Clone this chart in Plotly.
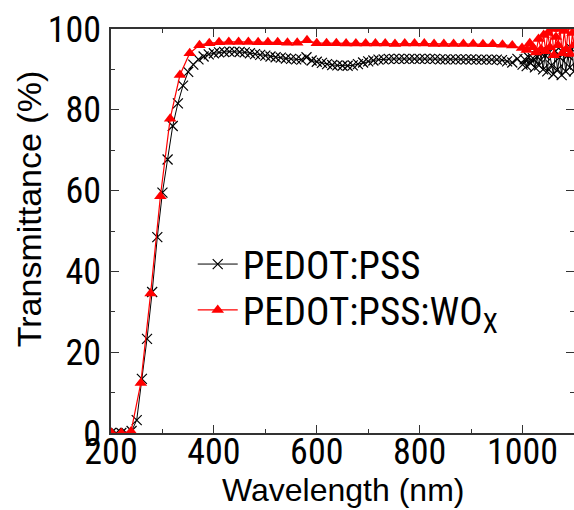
import plotly.graph_objects as go

# ---- data ----
wl_pss = [200, 210, 220, 230, 240, 250, 260, 270, 280, 290, 300, 310, 320, 330, 340, 350,
          360, 370, 380, 390, 400, 410, 420, 430, 440, 450, 460, 470, 480, 490, 500, 510,
          520, 530, 540, 550, 560, 570, 580, 590, 600, 610, 620, 630, 640, 650, 660, 670,
          680, 690, 700, 710, 720, 730, 740, 750, 760, 770, 780, 790, 800, 810, 820, 830,
          840, 850, 860, 870, 880, 890, 900, 910, 920, 930, 940, 950, 960, 970, 980, 990,
          1000, 1004, 1008, 1012, 1016, 1020, 1024, 1028, 1032, 1036, 1040, 1044, 1048,
          1052, 1056, 1060, 1064, 1068, 1072, 1076, 1080, 1084, 1088, 1092, 1096, 1100]
t_pss = [0.0, 0.0, 0.0, 0.0, 0.5, 3.2, 13.4, 23.3, 34.9, 48.5, 59.5, 67.7, 76.0, 81.6, 86.0, 89.4,
         91.2, 92.5, 93.2, 93.7, 94.0, 94.2, 94.3, 94.4, 94.4, 94.3, 94.2, 94.0, 93.8, 93.6, 93.4, 93.2,
         93.0, 92.9, 92.7, 92.6, 92.5, 92.4, 93.0, 92.2, 91.9, 91.6, 91.3, 91.1, 91.0, 90.9, 90.9, 91.0,
         91.3, 91.7, 92.0, 92.2, 92.4, 92.5, 92.6, 92.6, 92.6, 92.6, 92.6, 92.6, 92.6, 92.6, 92.6, 92.6,
         92.5, 92.5, 92.5, 92.5, 92.5, 92.5, 92.5, 92.4, 92.4, 92.4, 92.4, 92.4, 92.3, 92.0, 91.7, 92.6,
         91.2, 92.5, 90.8, 93.0, 91.5, 92.8, 90.5, 93.2, 91.0, 94.0, 90.0, 93.5, 89.5,
         94.2, 91.0, 88.8, 94.5, 90.0, 93.0, 88.6, 94.0, 89.5, 93.5, 90.5, 95.0, 89.5]

wl_wox = [201, 220, 239, 258, 277, 296, 315, 334, 353, 372, 391, 410, 429, 448, 467, 486,
          505, 524, 543, 562, 581, 600, 619, 638, 657, 676, 695, 714, 733, 752, 771, 790,
          809, 828, 847, 866, 885, 904, 923, 942, 961, 980, 999,
          1008, 1014, 1020, 1026, 1031, 1036, 1041, 1045, 1049, 1053, 1057, 1061, 1065,
          1069, 1073, 1077, 1081, 1085, 1089, 1093, 1097, 1100]
t_wox = [0.0, 0.0, 0.4, 12.4, 34.5, 58.6, 77.8, 88.6, 94.0, 96.0, 96.5, 96.7, 96.8, 96.8, 96.8, 96.7,
         96.7, 96.7, 96.6, 96.6, 97.2, 96.5, 96.5, 96.5, 96.4, 96.4, 96.4, 96.4, 96.4, 96.3, 96.4, 96.4,
         96.4, 96.3, 96.3, 96.3, 96.3, 96.3, 96.2, 96.2, 96.1, 95.9, 95.3,
         94.8, 96.5, 95.5, 94.2, 97.5, 95.0, 98.5, 94.5, 99.0, 95.5, 100.0, 93.5, 98.0,
         96.0, 100.0, 94.0, 99.5, 95.0, 100.5, 93.8, 99.0, 96.0]

label_pss = "PEDOT:PSS"
label_wox = "PEDOT:PSS:WO<sub>X</sub>"

x_title = "Wavelength (nm)"
y_title = "Transmittance (%)"

NARROW = "Roboto Condensed, Liberation Sans, sans-serif"
NORMAL = "Liberation Sans, Arial, sans-serif"

fig = go.Figure()
fig.add_trace(go.Scatter(
    x=wl_pss, y=t_pss, name=label_pss, mode="lines+markers",
    line=dict(color="black", width=1),
    marker=dict(symbol="x-thin", size=10, line=dict(color="black", width=1.2)),
    legend="legend",
))
fig.add_trace(go.Scatter(
    x=wl_wox, y=t_wox, name=label_wox, mode="lines+markers",
    line=dict(color="#ff0000", width=1.2),
    marker=dict(symbol="triangle-up", size=11, color="#ff0000"),
    legend="legend2",
))

axis_common = dict(
    showline=True, linecolor="#333333", linewidth=1.5, mirror="ticks",
    ticks="inside", ticklen=8, tickwidth=1.2, tickcolor="#333333",
    showgrid=False, zeroline=False, automargin=False,
    tickfont=dict(family=NARROW, size=36, color="black"),
)

fig.update_xaxes(range=[200, 1100], dtick=200, tick0=200,
                 minor=dict(ticks="inside", ticklen=4, dtick=100, tickcolor="#333333", tickwidth=1.2),
                 ticklabelstandoff=-14,
                 **axis_common)
fig.update_yaxes(range=[0, 100], dtick=20, tick0=0,
                 minor=dict(ticks="inside", ticklen=4, dtick=10, tickcolor="#333333", tickwidth=1.2),
                 ticklabelstandoff=1,
                 **axis_common)

fig.add_annotation(text=x_title, xref="paper", yref="paper", x=0.5, y=-0.141,
                   xanchor="center", yanchor="middle", showarrow=False,
                   font=dict(family=NORMAL, size=32, color="black"))
fig.add_annotation(text=y_title, xref="paper", yref="paper", x=-0.177, y=0.554,
                   xanchor="center", yanchor="middle", textangle=-90, showarrow=False,
                   font=dict(family=NORMAL, size=34, color="black"))

legend_style = dict(xanchor="left", yanchor="top", bgcolor="rgba(0,0,0,0)", borderwidth=0,
                    font=dict(family=NARROW, size=39, color="black"), itemwidth=40)

fig.update_layout(
    width=574, height=510,
    margin=dict(l=111, r=0, t=29, b=77),
    plot_bgcolor="white", paper_bgcolor="white",
    showlegend=True,
    legend=dict(x=0.1765, y=0.497, **legend_style),
    legend2=dict(x=0.1765, y=0.3836, **legend_style),
)

fig.write_html("out.html", config={"displayModeBar": False},
               post_script="document.body.style.margin='0';document.body.style.overflow='hidden';")
